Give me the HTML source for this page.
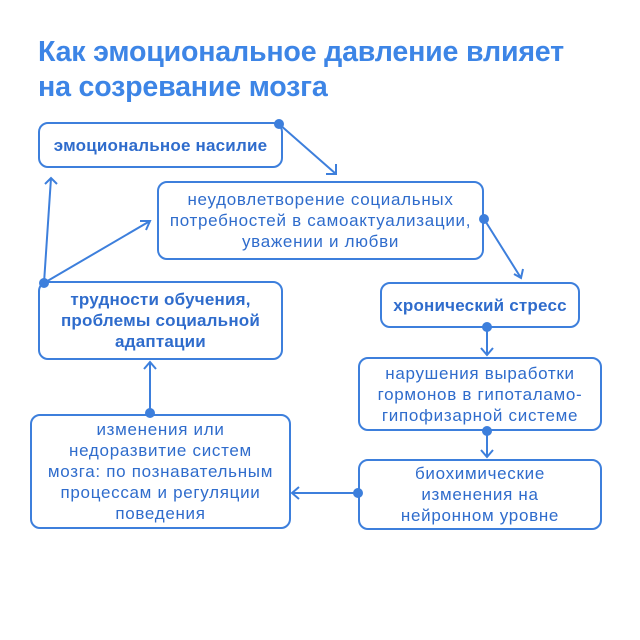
<!DOCTYPE html>
<html><head><meta charset="utf-8"><style>
body{margin:0;background:#fff;width:640px;height:640px;overflow:hidden;font-family:"Liberation Sans","DejaVu Sans",sans-serif}
.t{position:absolute;left:38px;top:35px;font-size:28.6px;font-weight:bold;color:#3d85e6;line-height:35px;letter-spacing:-0.2px;white-space:nowrap}
.b{position:absolute;box-sizing:border-box;border:2px solid #3d7fdc;border-radius:10px;display:flex;align-items:center;justify-content:center;text-align:center;color:#2f6ccc;font-size:17px;line-height:21px;letter-spacing:0.7px;white-space:nowrap}
.bd{font-weight:bold;letter-spacing:0.2px}
</style></head><body>
<div class="t">Как эмоциональное давление влияет<br>на созревание мозга</div>
<div class="b bd" style="left:38px;top:122px;width:245px;height:46px">эмоциональное насилие</div>
<div class="b" style="left:157px;top:181px;width:327px;height:79px">неудовлетворение социальных<br>потребностей в самоактуализации,<br>уважении и любви</div>
<div class="b bd" style="left:380px;top:282px;width:200px;height:46px">хронический стресс</div>
<div class="b" style="left:358px;top:357px;width:244px;height:74px">нарушения выработки<br>гормонов в гипоталамо-<br>гипофизарной системе</div>
<div class="b" style="left:358px;top:459px;width:244px;height:71px">биохимические<br>изменения на<br>нейронном уровне</div>
<div class="b" style="left:30px;top:414px;width:261px;height:115px">изменения или<br>недоразвитие систем<br>мозга: по познавательным<br>процессам и регуляции<br>поведения</div>
<div class="b bd" style="left:38px;top:281px;width:245px;height:79px">трудности обучения,<br>проблемы социальной<br>адаптации</div>
<svg width="640" height="640" style="position:absolute;left:0;top:0" fill="none" stroke="#3d7fdc" stroke-width="2">
<g fill="#3d7fdc" stroke="none">
<circle cx="279" cy="124" r="5"/><circle cx="484" cy="219" r="5"/><circle cx="487" cy="327" r="5"/><circle cx="487" cy="431" r="5"/><circle cx="358" cy="493" r="5"/><circle cx="150" cy="413" r="5"/><circle cx="44" cy="283" r="5"/>
</g>
<path d="M279 124L336 174M326 174h10v-10"/>
<path d="M484 219L521 278M514 274l7 4 2-9"/>
<path d="M487 327V355M481 348l6 7 6-7"/>
<path d="M487 431V457M481 450l6 7 6-7"/>
<path d="M358 493H292M299 487l-7 6 7 6"/>
<path d="M150 413V362M144 369l6-7 6 7"/>
<path d="M44 283L51 178M45 184l6-6 6 6"/>
<path d="M44 283L150 221M140 221h10l-4 9"/>
</svg>
</body></html>
